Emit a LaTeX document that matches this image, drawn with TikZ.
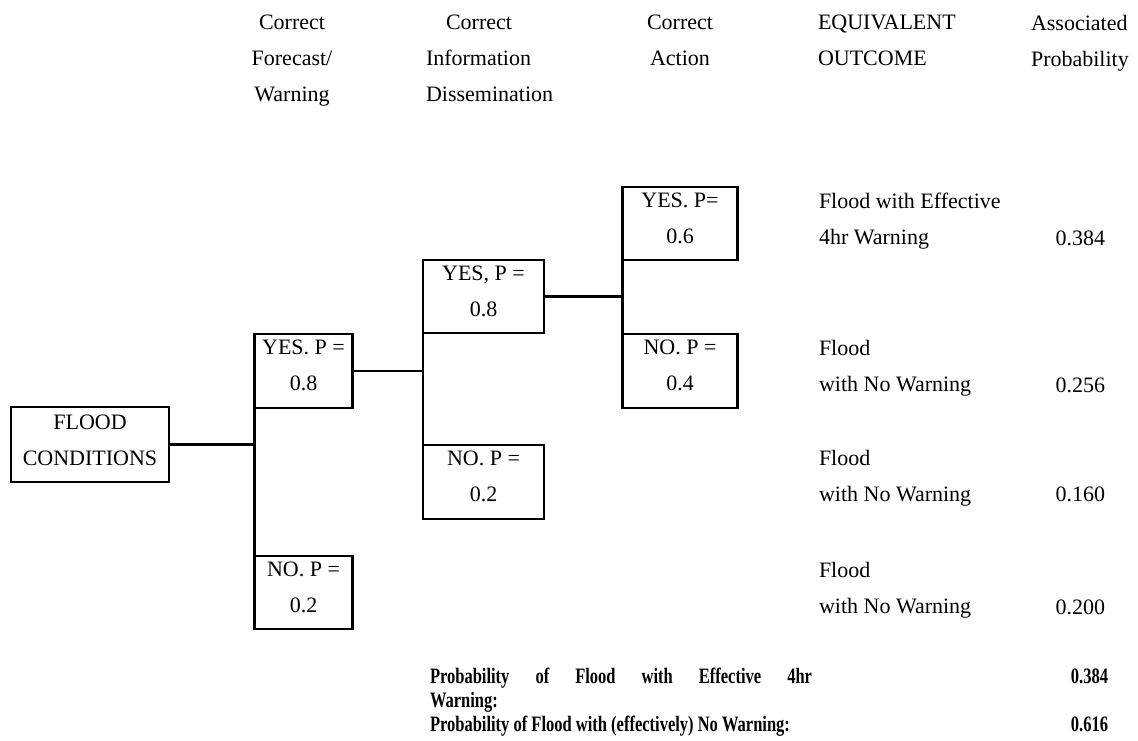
\documentclass[tikz,border=0pt]{standalone}
\usepackage{fontspec}
\setmainfont{Liberation Serif}
\newfontfamily\condbold{Liberation Serif}[FakeStretch=0.75]
\tikzset{
  box/.style={draw, line width=1.1pt, inner sep=0pt, outer sep=0pt},
  txt/.style={font=\fontsize{11pt}{18pt}\selectfont, inner sep=0pt, outer sep=0pt},
  intxt/.style={txt, align=center, anchor=north},
  conn/.style={line width=1.1pt},
  sumtxt/.style={font=\condbold\bfseries\fontsize{11pt}{12pt}\selectfont, inner sep=0pt, outer sep=0pt},
}
\begin{document}
\begin{tikzpicture}[x=0.5pt,y=-0.5pt]
\useasboundingbox (0,0) rectangle (1138,740);

% headers
\node[txt, align=center, anchor=north] (h1) at (292,15) {Correct\\Forecast/\\Warning};
\node[txt, align=left, anchor=north west] (h2) at (426,15) {\hspace*{10pt}Correct\\Information\\Dissemination};
\node[txt, align=center, anchor=north] (h3) at (680,15) {Correct\\Action};
\node[txt, align=left, anchor=north west] (h4) at (818,15) {EQUIVALENT\\OUTCOME};
\node[txt, align=left, anchor=north west] (h5) at (1031,15) {Associated\\Probability};

% boxes
\node[box, minimum width=79pt, minimum height=37.5pt] (flood) at (90,444.5) {};
\node[intxt] (floodt) at ([yshift=-3.8pt]flood.north) {FLOOD\\CONDITIONS};

\node[box, minimum width=49pt, minimum height=37pt] (f1y) at (303.5,371) {};
\node[intxt] (f1yt) at ([yshift=-3.1pt]f1y.north) {YES. P =\\0.8};
\node[box, minimum width=49pt, minimum height=36.5pt] (f1n) at (303.5,592.5) {};
\node[intxt] (f1nt) at ([yshift=-3.1pt]f1n.north) {NO. P =\\0.2};

\node[box, minimum width=60.5pt, minimum height=36.5pt] (d2y) at (483.5,296.5) {};
\node[intxt] (d2yt) at ([yshift=-3.1pt]d2y.north) {YES, P =\\0.8};
\node[box, minimum width=60.5pt, minimum height=37pt] (d2n) at (483.5,482) {};
\node[intxt] (d2nt) at ([yshift=-3.1pt]d2n.north) {NO. P =\\0.2};

\node[box, minimum width=57.5pt, minimum height=36.5pt] (a3y) at (680,223.5) {};
\node[intxt] (a3yt) at ([yshift=-3.1pt]a3y.north) {YES. P=\\0.6};
\node[box, minimum width=57.5pt, minimum height=37pt] (a3n) at (680,371) {};
\node[intxt] (a3nt) at ([yshift=-3.1pt]a3n.north) {NO. P =\\0.4};

% connectors
\coordinate (j1) at (f1y.south west |- flood.east);
\draw[conn] (flood.east) -- (j1);
\draw[conn] (f1y.south west) -- (f1n.north west);
\coordinate (j2) at (d2y.south west |- f1y.east);
\draw[conn] (f1y.east) -- (j2);
\draw[conn] (d2y.south west) -- (d2n.north west);
\coordinate (j3) at (a3y.south west |- d2y.east);
\draw[conn] (d2y.east) -- (j3);
\draw[conn] (a3y.south west) -- (a3n.north west);

% outcomes
\node[txt, align=left, anchor=north west] (o1) at (819,193) {Flood with Effective\\4hr Warning};
\node[txt, align=left, anchor=north west] (o2) at (819,340) {Flood\\with No Warning};
\node[txt, align=left, anchor=north west] (o3) at (819,450) {Flood\\with No Warning};
\node[txt, align=left, anchor=north west] (o4) at (819,562) {Flood\\with No Warning};

\node[txt, anchor=base east] (p1) at (1105,245.5) {0.384};
\node[txt, anchor=base east] (p2) at (1105,392.5) {0.256};
\node[txt, anchor=base east] (p3) at (1105,501.5) {0.160};
\node[txt, anchor=base east] (p4) at (1105,614.5) {0.200};

% summary
\node[sumtxt, anchor=base west] (s1) at (430,683.5) {\makebox[191pt][s]{Probability of Flood with Effective 4hr}};
\node[sumtxt, anchor=base west] (s2) at (430,707.5) {Warning:};
\node[sumtxt, anchor=base west] (s3) at (430,731.5) {Probability of Flood with (effectively) No Warning:};
\node[sumtxt, anchor=base east] (s4) at (1108,683.5) {0.384};
\node[sumtxt, anchor=base east] (s5) at (1108,731.5) {0.616};
\end{tikzpicture}
\end{document}
